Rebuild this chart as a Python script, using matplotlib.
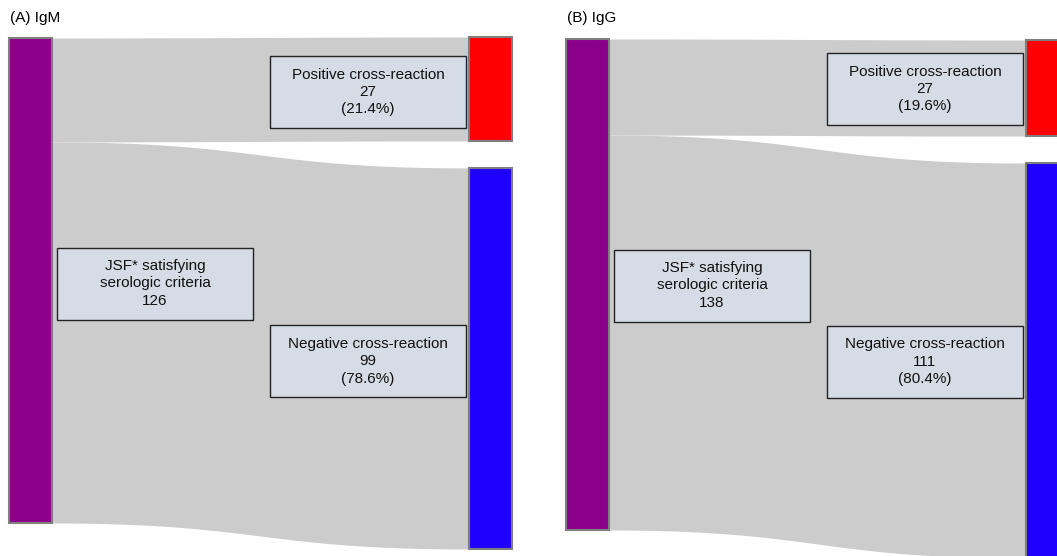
import numpy as np
import matplotlib.pyplot as plt
from matplotlib.patches import Rectangle

plt.rcParams['font.family'] = ['Liberation Sans', 'DejaVu Sans']

# data
panel_titles = ['(A) IgM', '(B) IgG']
source_label = 'JSF* satisfying\nserologic criteria'
target_labels = ['Positive cross-reaction', 'Negative cross-reaction']
igm_counts = [27, 99]
igg_counts = [27, 111]
panel_counts = [igm_counts, igg_counts]

node_colors = ['#8b008b', '#ff0000', '#1f00ff']
link_color = '#cccccc'
box_color = '#d6dce5'

# layout (pixel units of the figure)
W, H = 1057, 556
panel_x = [9, 566]
source_top = [38, 39]
target_top = [37, 40]
scales = [485 / 126, 491 / 138]
label_dy = [3, 1]
node_w = 43
link_len = 417
gap = 27
box_w, box_h = 196, 72


def link(ax, x0, x1, y0a, y0b, y1a, y1b):
    # cubic bezier with control points at the middle (curvature 0.5)
    t = np.linspace(0, 1, 200)
    xm = 0.5 * (x1 - x0)
    xs = (1 - t)**3 * x0 + 3 * (1 - t)**2 * t * (x0 + xm) + 3 * (1 - t) * t**2 * (x1 - xm) + t**3 * x1
    s = 3 * t**2 - 2 * t**3
    top = y0a + (y1a - y0a) * s
    bot = y0b + (y1b - y0b) * s
    ax.fill_between(xs, top, bot, color=link_color, lw=0, zorder=1)


def node(ax, x, y, h, color):
    ax.add_patch(Rectangle((x, y), node_w, h, facecolor=color, edgecolor='#7f7f7f',
                           lw=1.5, zorder=3))


def label(ax, cx, cy, text):
    ax.add_patch(Rectangle((cx - box_w / 2, cy - box_h / 2), box_w, box_h,
                           facecolor=box_color, edgecolor='#222222', lw=1.0, zorder=4))
    ax.text(cx, cy, text, ha='center', va='center', fontsize=11, linespacing=1.3,
            color='#111111', zorder=5)


fig = plt.figure(figsize=(W / 100, H / 100), dpi=100)
ax = fig.add_axes([0, 0, 1, 1])
ax.set_xlim(0, W)
ax.set_ylim(H, 0)
ax.axis('off')

for i, counts in enumerate(panel_counts):
    k = scales[i]
    total = sum(counts)
    sx = panel_x[i]
    tx = sx + node_w + link_len
    sy = source_top[i]
    dy = label_dy[i]

    ax.text(sx + 1, 18, panel_titles[i], fontsize=11, va='center', ha='left')

    # links
    ys = sy
    yt = target_top[i]
    t_pos = []
    for j, c in enumerate(counts):
        h = c * k
        link(ax, sx + node_w, tx, ys, ys + h, yt, yt + h)
        t_pos.append((yt, h))
        ys += h
        yt += h + gap

    # nodes
    node(ax, sx, sy, total * k, node_colors[0])
    for j, (y, h) in enumerate(t_pos):
        node(ax, tx, y, h, node_colors[j + 1])

    # labels
    label(ax, sx + node_w + 5 + box_w / 2, sy + total * k / 2 + dy,
          f'{source_label}\n{total}')
    for j, (y, h) in enumerate(t_pos):
        pct = 100 * counts[j] / total
        label(ax, tx - 3 - box_w / 2, y + h / 2 + dy,
              f'{target_labels[j]}\n{counts[j]}\n({pct:.1f}%)')

fig.savefig('out.png', dpi=100)
